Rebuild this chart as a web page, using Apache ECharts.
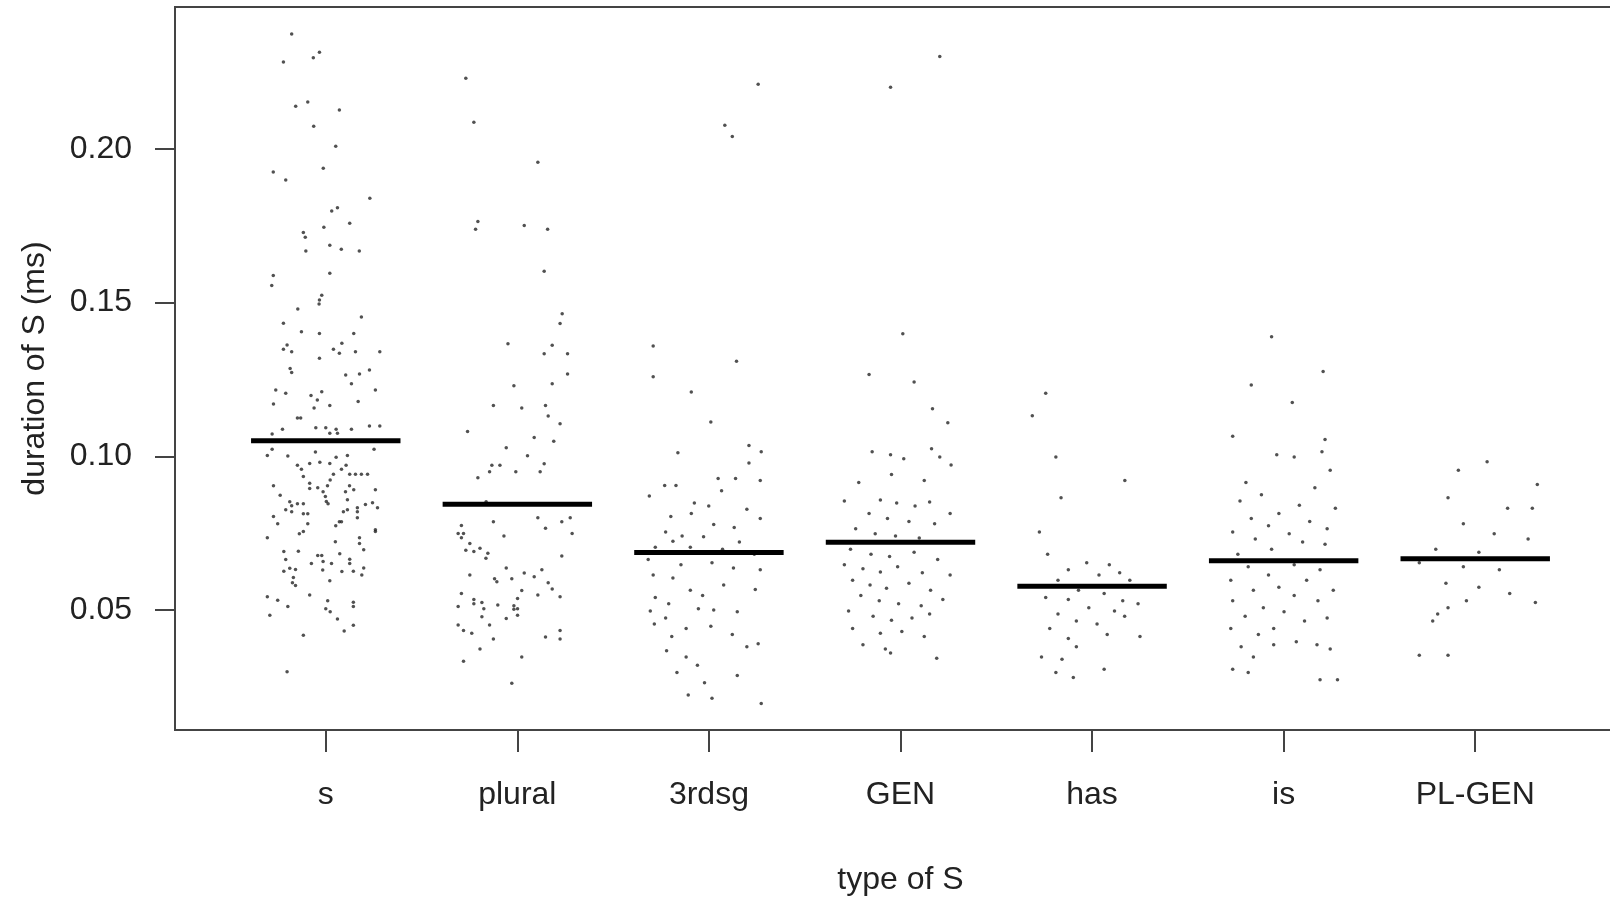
<!DOCTYPE html>
<html>
<head>
<meta charset="utf-8">
<title>duration of S by type</title>
<script src="https://cdn.jsdelivr.net/npm/echarts@6/dist/echarts.min.js"></script>
<style>
  html, body { margin: 0; padding: 0; background: #fff; }
  #main { width: 1610px; height: 899px; }
</style>
</head>
<body>
<div id="main"></div>
<script>
// categories along x, and the tick values on y
var categories = ['s', 'plural', '3rdsg', 'GEN', 'has', 'is', 'PL-GEN'];
var yTicks = [0.05, 0.10, 0.15, 0.20];
// thick bars = median per category
var medians = [0.1051, 0.0844, 0.0687, 0.0720, 0.0577, 0.0660, 0.0667];

// points: [horizontal jitter, duration]
var sPoints = [
  [-0.178,0.2374],[-0.033,0.2315],[-0.065,0.2297],[-0.221,0.2283],[-0.094,0.2153],[-0.157,0.2139],[0.071,0.2127],
  [-0.063,0.2074],[0.052,0.2009],[-0.013,0.1937],[-0.274,0.1925],[-0.209,0.1899],[0.230,0.1840],[0.061,0.1809],
  [0.031,0.1798],[0.125,0.1758],[-0.010,0.1745],[-0.117,0.1728],[-0.107,0.1713],[-0.104,0.1668],[0.021,0.1687],
  [0.081,0.1674],[0.175,0.1668],[-0.274,0.1588],[-0.282,0.1556],[0.021,0.1596],[-0.021,0.1524],[-0.033,0.1509],
  [-0.035,0.1496],[-0.146,0.1479],[0.186,0.1453],[-0.221,0.1433],[-0.127,0.1405],[-0.033,0.1400],[0.146,0.1400],
  [0.084,0.1368],[-0.202,0.1362],[-0.221,0.1348],[-0.178,0.1340],[0.040,0.1348],[0.071,0.1335],[0.155,0.1340],
  [0.282,0.1340],[-0.033,0.1319],
  [-0.186,0.1286],[-0.178,0.1273],[0.104,0.1265],[0.176,0.1268],[0.228,0.1281],[0.134,0.1236],[-0.261,0.1216],
  [-0.209,0.1205],[-0.077,0.1198],[-0.021,0.1210],[-0.044,0.1183],[0.259,0.1216],[0.169,0.1178],[-0.273,0.1170],
  [-0.061,0.1157],[0.021,0.1165],[-0.148,0.1125],[-0.131,0.1125],[-0.226,0.1088],[-0.052,0.1093],[0.000,0.1093],
  [0.021,0.1075],[0.054,0.1088],[0.061,0.1075],[0.134,0.1088],[0.228,0.1099],[0.282,0.1099],[-0.280,0.1073],
  [-0.280,0.1023],[-0.305,0.1003],[-0.198,0.1001],[-0.054,0.1014],[0.252,0.1023],[-0.148,0.0971],[-0.127,0.0958],
  [-0.084,0.0977],[-0.031,0.0981],[0.021,0.0977],[0.054,0.0997],[0.113,0.1003],[0.106,0.0971],[0.082,0.0958],
  [0.040,0.0942],[0.125,0.0942],[0.155,0.0942],[0.186,0.0942],[0.218,0.0942],[-0.117,0.0934],[-0.273,0.0904],
  [-0.084,0.0912],[-0.084,0.0895],[-0.042,0.0898],[0.009,0.0904],[0.023,0.0923],[0.124,0.0904],[0.146,0.0891],
  [0.259,0.0891],[-0.238,0.0873],[-0.014,0.0885],[-0.002,0.0869],[0.103,0.0885],[0.113,0.0859],[-0.188,0.0852],
  [-0.178,0.0839],[-0.148,0.0846],[-0.117,0.0846],[-0.209,0.0826],[-0.178,0.0820],[0.003,0.0853],[0.012,0.0846],
  [0.165,0.0833],[0.165,0.0820],[0.207,0.0843],[0.244,0.0849],[0.270,0.0833],[0.092,0.0820],[0.113,0.0826],
  [-0.273,0.0804],[-0.251,0.0781],[-0.117,0.0813],[-0.094,0.0813],[-0.094,0.0781],[0.052,0.0774],[0.071,0.0787],
  [0.082,0.0787],[0.165,0.0800],[-0.305,0.0735],[-0.138,0.0748],[-0.117,0.0755],[0.050,0.0722],[0.176,0.0735],
  [0.176,0.0716],[0.198,0.0696],[0.259,0.0761],[0.259,0.0755],[-0.219,0.0690],[-0.209,0.0664],[-0.143,0.0691],
  [-0.042,0.0677],[-0.021,0.0677],[-0.075,0.0651],[-0.014,0.0658],[0.030,0.0651],[0.073,0.0683],[0.125,0.0665],
  [0.125,0.0651],[-0.188,0.0636],[-0.219,0.0626],[-0.158,0.0632],[-0.016,0.0630],[0.084,0.0625],[0.144,0.0626],
  [0.188,0.0614],[0.198,0.0637],[-0.169,0.0606],[-0.174,0.0589],[-0.158,0.0580],[0.021,0.0595],[-0.305,0.0543],
  [-0.251,0.0532],[-0.198,0.0511],[-0.084,0.0549],[0.010,0.0530],[0.000,0.0504],[0.023,0.0494],[0.144,0.0525],
  [0.144,0.0511],[-0.292,0.0483],[0.061,0.0471],[0.144,0.0450],[0.096,0.0432],[-0.117,0.0418],[-0.202,0.0299]
];
var pluralPoints = [
  [-0.269,0.2230],[-0.227,0.2087],[0.107,0.1957],[-0.206,0.1764],[-0.218,0.1739],[0.036,0.1751],[0.158,0.1739],
  [0.140,0.1602],[0.234,0.1464],[0.223,0.1432],[-0.049,0.1366],[0.182,0.1361],[0.140,0.1334],[0.262,0.1334],
  [0.262,0.1268],[-0.018,0.1230],[0.182,0.1236],[-0.125,0.1165],[0.023,0.1157],[0.147,0.1165],[0.161,0.1131],
  [0.223,0.1106],[-0.260,0.1081],[0.088,0.1061],[0.190,0.1049],[-0.058,0.1028],[0.053,0.1002],[-0.133,0.0971],
  [-0.091,0.0971],[-0.145,0.0950],[-0.008,0.0950],[0.140,0.0976],[0.119,0.0950],[-0.206,0.0930],[-0.163,0.0852],
  [-0.125,0.0787],[0.107,0.0800],[0.232,0.0787],[0.276,0.0800],[0.147,0.0766],[-0.292,0.0775],[-0.309,0.0749],
  [-0.281,0.0749],[-0.292,0.0735],[-0.070,0.0741],[0.286,0.0749],[-0.248,0.0716],[-0.269,0.0694],[-0.227,0.0690],
  [-0.195,0.0701],[-0.154,0.0685],[-0.164,0.0668],[0.232,0.0676],[-0.058,0.0637],[-0.248,0.0614],[-0.119,0.0602],
  [-0.107,0.0592],[-0.029,0.0602],[0.036,0.0620],[0.088,0.0608],[0.128,0.0631],[0.161,0.0589],[0.182,0.0568],
  [0.223,0.0543],[-0.292,0.0554],[0.023,0.0563],[0.001,0.0537],[0.107,0.0549],[-0.227,0.0534],[-0.227,0.0520],
  [-0.185,0.0524],[-0.175,0.0504],[-0.309,0.0511],[-0.102,0.0516],[-0.018,0.0514],[-0.018,0.0502],[0.001,0.0504],
  [0.001,0.0483],[-0.185,0.0478],[-0.058,0.0472],[-0.309,0.0451],[-0.145,0.0451],[-0.281,0.0433],[-0.238,0.0424],
  [-0.125,0.0406],[0.223,0.0433],[0.223,0.0406],[0.147,0.0412],[-0.195,0.0373],[0.023,0.0347],[-0.281,0.0333],
  [-0.029,0.0262]
];
var thirdPoints = [
  [0.257,0.2211],[0.083,0.2077],[0.122,0.2041],[-0.291,0.1359],[0.144,0.1309],[-0.291,0.1259],[-0.092,0.1209],
  [0.010,0.1112],[0.209,0.1035],[0.273,0.1015],[-0.162,0.1012],[0.209,0.0978],[0.139,0.0928],[0.048,0.0928],
  [-0.231,0.0905],[-0.172,0.0905],[0.268,0.0921],[0.066,0.0888],[-0.311,0.0871],[-0.076,0.0848],[-0.001,0.0838],
  [0.198,0.0828],[-0.092,0.0814],[-0.199,0.0804],[0.268,0.0798],[0.025,0.0778],[0.132,0.0768],[-0.226,0.0754],
  [-0.140,0.0741],[-0.028,0.0738],[-0.188,0.0724],[0.159,0.0721],[-0.097,0.0704],[-0.280,0.0704],[0.071,0.0698],
  [0.237,0.0681],[-0.317,0.0664],[-0.146,0.0647],[0.016,0.0654],[0.128,0.0637],[0.268,0.0631],[-0.291,0.0614],
  [-0.188,0.0604],[0.077,0.0581],[0.242,0.0567],[-0.097,0.0564],[-0.033,0.0547],[-0.280,0.0541],[-0.210,0.0520],
  [-0.306,0.0497],[-0.055,0.0504],[0.025,0.0500],[0.148,0.0494],[-0.226,0.0474],[-0.285,0.0454],[-0.119,0.0440],
  [0.010,0.0447],[0.122,0.0420],[-0.194,0.0414],[0.257,0.0390],[0.198,0.0380],[-0.221,0.0367],[-0.119,0.0347],
  [-0.060,0.0320],[-0.167,0.0297],[0.148,0.0287],[-0.023,0.0263],[-0.108,0.0223],[0.016,0.0213],[0.273,0.0196]
];
var genPoints = [
  [0.205,0.2301],[-0.052,0.2201],[0.012,0.1399],[-0.164,0.1266],[0.071,0.1242],[0.167,0.1155],[0.247,0.1109],
  [-0.148,0.1015],[-0.052,0.1005],[0.017,0.0992],[0.162,0.1025],[0.205,0.0998],[0.264,0.0972],[-0.047,0.0941],
  [0.124,0.0921],[-0.218,0.0915],[-0.293,0.0855],[-0.105,0.0858],[-0.020,0.0848],[0.076,0.0838],[0.152,0.0851],
  [0.259,0.0814],[-0.164,0.0814],[-0.068,0.0798],[0.044,0.0788],[0.178,0.0781],[-0.234,0.0764],[-0.132,0.0748],
  [-0.026,0.0741],[0.098,0.0734],[-0.261,0.0698],[-0.154,0.0681],[-0.057,0.0674],[0.071,0.0688],[0.194,0.0664],
  [-0.293,0.0647],[-0.196,0.0634],[-0.105,0.0624],[-0.015,0.0641],[0.114,0.0621],[0.259,0.0614],[-0.250,0.0597],
  [-0.159,0.0581],[-0.073,0.0571],[0.044,0.0587],[0.157,0.0564],[-0.207,0.0547],[-0.111,0.0530],[-0.010,0.0520],
  [0.108,0.0514],[0.221,0.0534],[-0.271,0.0497],[-0.143,0.0480],[-0.047,0.0467],[0.060,0.0474],[0.152,0.0487],
  [-0.250,0.0440],[-0.105,0.0424],[0.007,0.0430],[0.124,0.0414],[-0.196,0.0387],[-0.079,0.0373],[-0.052,0.0360],
  [0.189,0.0343]
];
var hasPoints = [
  [-0.242,0.1205],[-0.312,0.1132],[-0.189,0.0998],[0.171,0.0921],[-0.162,0.0865],[-0.275,0.0754],[-0.232,0.0681],
  [-0.028,0.0654],[0.090,0.0647],[-0.124,0.0631],[0.144,0.0621],[0.036,0.0614],[-0.178,0.0597],[0.197,0.0597],
  [-0.071,0.0564],[0.063,0.0554],[-0.242,0.0541],[-0.124,0.0534],[0.160,0.0530],[0.240,0.0520],[-0.017,0.0507],
  [0.117,0.0497],[-0.178,0.0487],[0.170,0.0480],[-0.082,0.0464],[0.026,0.0454],[-0.221,0.0440],[0.250,0.0414],
  [-0.124,0.0407],[0.079,0.0420],[-0.264,0.0347],[-0.157,0.0340],[-0.082,0.0380],[-0.189,0.0297],[0.063,0.0307],
  [-0.098,0.0280]
];
var isPoints = [
  [-0.063,0.1389],[0.206,0.1276],[-0.169,0.1232],[0.045,0.1175],[-0.266,0.1065],[0.216,0.1055],[0.200,0.1015],
  [-0.036,0.1005],[0.055,0.0998],[0.243,0.0955],[-0.197,0.0915],[0.163,0.0898],[-0.116,0.0875],[0.082,0.0841],
  [-0.228,0.0855],[0.270,0.0831],[-0.025,0.0814],[-0.169,0.0798],[0.136,0.0788],[-0.079,0.0774],[0.227,0.0764],
  [-0.266,0.0754],[0.029,0.0748],[-0.148,0.0731],[0.099,0.0721],[0.216,0.0714],[-0.063,0.0698],[-0.239,0.0681],
  [0.055,0.0647],[-0.185,0.0641],[0.190,0.0631],[-0.079,0.0614],[-0.276,0.0597],[0.120,0.0597],[-0.025,0.0574],
  [-0.158,0.0564],[0.259,0.0564],[0.055,0.0547],[-0.266,0.0530],[0.179,0.0530],[-0.106,0.0507],[0.002,0.0494],
  [-0.201,0.0480],[0.227,0.0474],[0.109,0.0464],[-0.276,0.0440],[-0.052,0.0440],[-0.132,0.0420],[0.066,0.0397],
  [0.174,0.0387],[-0.222,0.0380],[-0.052,0.0387],[0.243,0.0373],[-0.158,0.0347],[-0.266,0.0307],[-0.185,0.0297],
  [0.190,0.0273],[0.281,0.0273]
];
var plGenPoints = [
  [0.062,0.0982],[-0.088,0.0955],[-0.142,0.0865],[0.169,0.0831],[0.324,0.0908],[0.298,0.0831],[-0.062,0.0781],
  [0.099,0.0748],[0.276,0.0731],[-0.206,0.0698],[0.019,0.0688],[-0.292,0.0654],[-0.062,0.0641],[0.126,0.0631],
  [-0.153,0.0587],[0.019,0.0574],[0.180,0.0554],[-0.046,0.0530],[0.314,0.0524],[-0.142,0.0507],[-0.196,0.0487],
  [-0.222,0.0464],[-0.292,0.0353],[-0.142,0.0353]
];

var groups = [sPoints, pluralPoints, thirdPoints, genPoints, hasPoints, isPoints, plGenPoints];

function createStripChart(selectorId) {
    var myChart = echarts.init(document.getElementById(selectorId));

    var dots = [];
    groups.forEach(function (pts, i) {
        pts.forEach(function (p) {
            dots.push([i + 1 + p[0], p[1]]);
        });
    });

    var series = [{
        type: 'scatter',
        data: dots,
        symbol: 'circle',
        symbolSize: 3.5,
        itemStyle: { color: '#262626' },
        silent: true,
        z: 2
    }];
    medians.forEach(function (m, i) {
        series.push({
            type: 'line',
            data: [[i + 1 - 0.39, m], [i + 1 + 0.39, m]],
            symbol: 'none',
            lineStyle: { color: '#000', width: 5, cap: 'butt' },
            silent: true,
            z: 3
        });
    });

    var txt = {
        color: '#222',
        fontFamily: 'Liberation Sans, Arial, sans-serif',
        fontSize: 32
    };

    var option = {
        backgroundColor: '#fff',
        animation: false,
        grid: {
            left: 175,
            top: 7,
            width: 1451,
            height: 723,
            show: true,
            borderColor: '#444',
            borderWidth: 2,
            containLabel: false,
            outerBoundsMode: 'none'
        },
        xAxis: {
            type: 'value',
            min: 0.213,
            max: 7.787,
            name: 'type of S',
            nameLocation: 'middle',
            nameGap: 134,
            nameTextStyle: txt,
            axisLine: { show: false },
            splitLine: { show: false },
            axisTick: {
                show: true,
                customValues: [1, 2, 3, 4, 5, 6, 7],
                length: 22,
                lineStyle: { color: '#444', width: 2 }
            },
            axisLabel: {
                customValues: [1, 2, 3, 4, 5, 6, 7],
                margin: 49,
                color: txt.color,
                fontFamily: txt.fontFamily,
                fontSize: txt.fontSize,
                lineHeight: 32,
                formatter: function (v) { return categories[Math.round(v) - 1]; }
            }
        },
        yAxis: {
            type: 'value',
            min: 0.01095,
            max: 0.2462,
            name: 'duration of S (ms)',
            nameLocation: 'middle',
            nameGap: 124,
            nameTextStyle: txt,
            axisLine: { show: false },
            splitLine: { show: false },
            axisTick: {
                show: true,
                customValues: yTicks,
                length: 20,
                lineStyle: { color: '#444', width: 2 }
            },
            axisLabel: {
                customValues: yTicks,
                margin: 43,
                color: txt.color,
                fontFamily: txt.fontFamily,
                fontSize: txt.fontSize,
                formatter: function (v) { return v.toFixed(2); }
            }
        },
        series: series
    };
    myChart.setOption(option);
    window.addEventListener('resize', function () {
        myChart.resize();
    });
}

createStripChart('main');
</script>
</body>
</html>
